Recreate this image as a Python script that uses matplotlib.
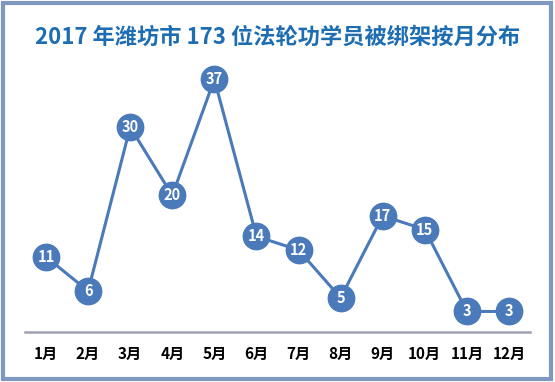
import matplotlib
matplotlib.use("Agg")
import matplotlib.pyplot as plt
from matplotlib.patches import Rectangle

plt.rcParams['font.family'] = ['Noto Sans CJK SC', 'DejaVu Sans']

months = ["1月", "2月", "3月", "4月", "5月", "6月", "7月", "8月", "9月", "10月", "11月", "12月"]
counts = [11, 6, 30, 20, 37, 14, 12, 5, 17, 15, 3, 3]
title = "2017 年潍坊市 173 位法轮功学员被绑架按月分布"

blue = "#4a7aba"

fig = plt.figure(figsize=(5.55, 3.82), dpi=100, facecolor="white")
ax = fig.add_axes([0.045, 0.131, 0.91, 0.715])

x = list(range(1, len(months) + 1))
ax.plot(x, counts, color=blue, lw=2.2, marker="o", ms=19,
        markerfacecolor=blue, markeredgecolor=blue, zorder=3)
for xi, v in zip(x, counts):
    ax.text(xi, v, str(v), ha="center", va="center", color="white",
            fontsize=10.5, fontweight="bold", zorder=4)

ax.set_xlim(0.5, 12.5)
ax.set_ylim(0, 40)
ax.set_xticks(x)
ax.set_xticklabels(months, fontsize=11, fontweight="bold", color="black")
ax.set_yticks([])
ax.tick_params(axis="x", length=0, pad=10)
for s in ["top", "right", "left"]:
    ax.spines[s].set_visible(False)
ax.spines["bottom"].set_color("#a0a2b4")
ax.spines["bottom"].set_linewidth(1.8)
ax.set_facecolor("none")

fig.text(0.5, 0.903, title, ha="center", va="center", fontsize=16,
         fontweight="bold", color="#1d6db3")

# outer frame
fig.patches.append(Rectangle((0.0055, 0.008), 0.988, 0.985, transform=fig.transFigure,
                             fill=False, edgecolor="#7f98c0", lw=3))

fig.savefig("out.png", dpi=100)
